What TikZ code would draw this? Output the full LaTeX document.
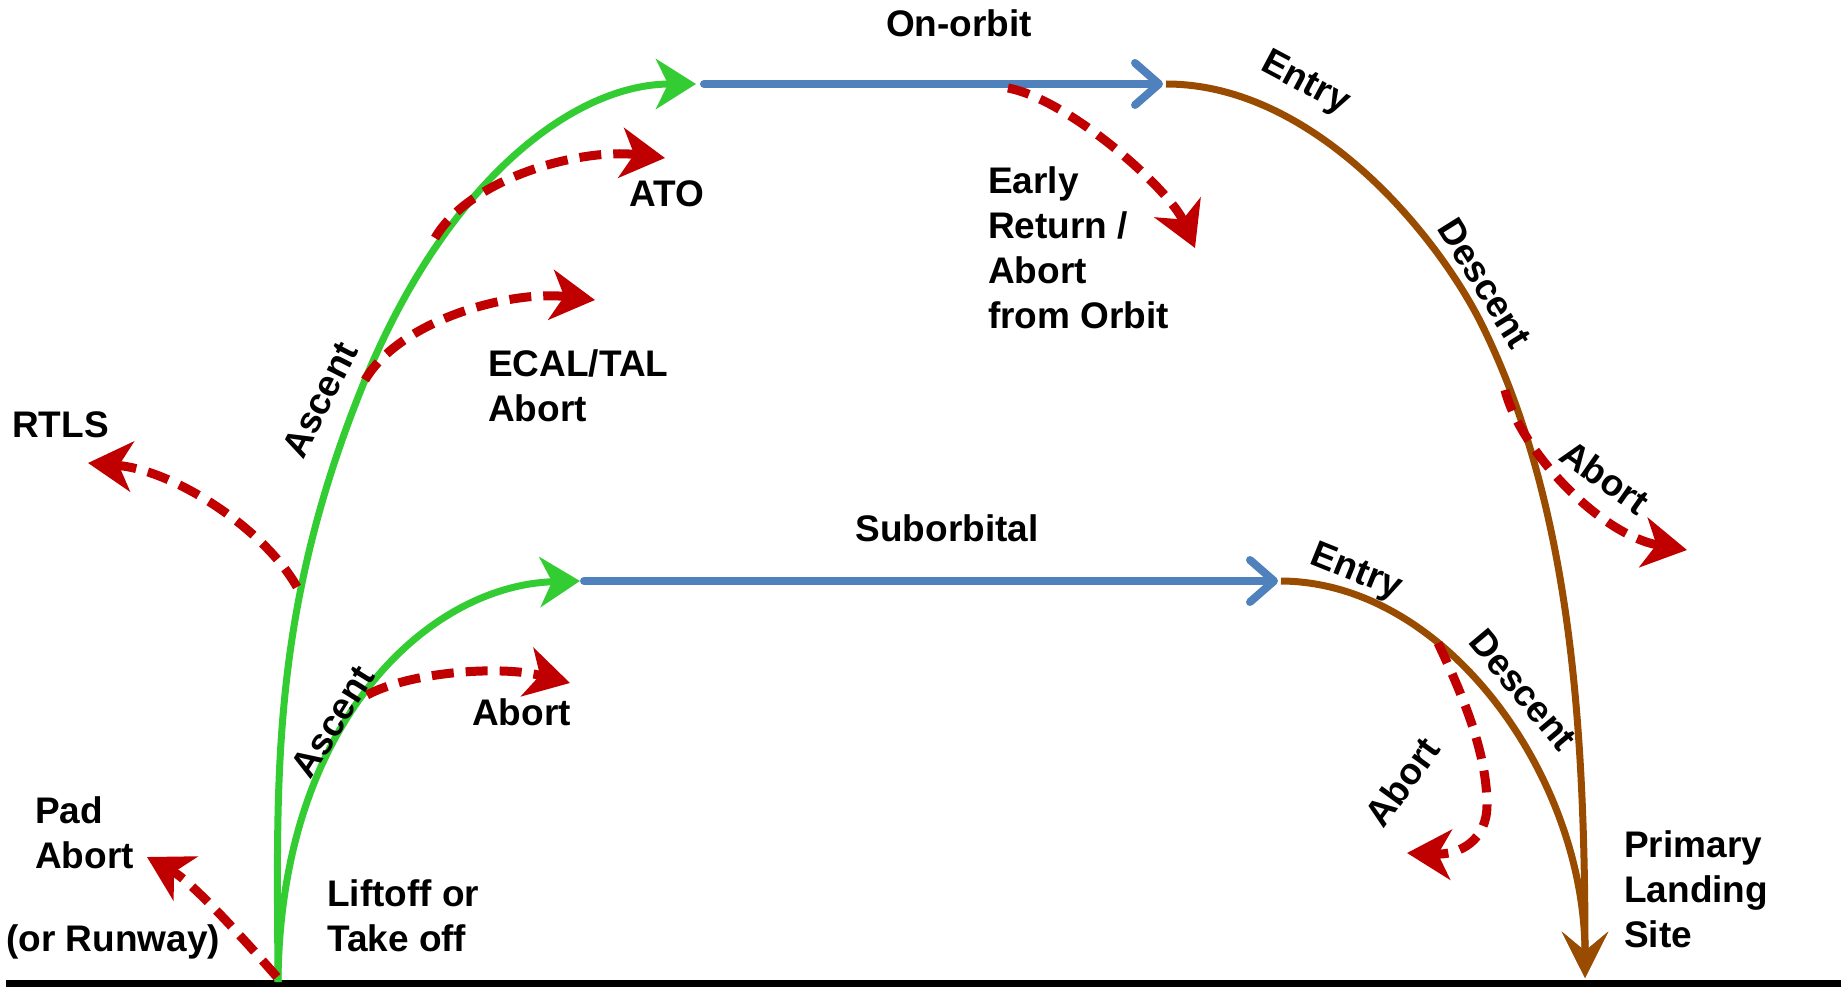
\documentclass[tikz,border=0pt]{standalone}
\usepackage{fontspec}
\setmainfont{Liberation Sans}
\usetikzlibrary{arrows.meta}
\definecolor{grn}{RGB}{51,204,51}
\definecolor{blu}{RGB}{79,129,189}
\definecolor{brn}{RGB}{153,76,0}
\definecolor{rd}{RGB}{192,0,0}
\begin{document}
\begin{tikzpicture}[x=1pt,y=-1pt,
  lbl/.style={font=\fontsize{37}{45}\selectfont\bfseries, inner sep=0pt, align=left, text=black},
  ascentline/.style={grn, line width=7pt, -{Stealth[length=40pt,width=50pt,inset=12pt]}},
  orbitline/.style={blu, line width=8pt, line cap=round, -{Straight Barb[length=24pt,width=42pt,round]}},
  descentline/.style={brn, line width=7pt, -{Stealth[length=46pt,width=46pt,inset=19pt]}},
  abortline/.style={rd, line width=9pt, dash pattern=on 22pt off 12pt, -{Stealth[length=44pt,width=50pt,inset=13pt]}},
  groundline/.style={black, line width=7pt}
]
\useasboundingbox (0,0) rectangle (1845,995);
% key points
\coordinate (gl) at (6,983);
\coordinate (gr) at (1841,983);
\coordinate (lift) at (278,982);
\coordinate (ascM) at (365,380);
\coordinate (orbA) at (696,84);
\coordinate (orbB) at (1163,84);
\coordinate (desM) at (1483,327);
\coordinate (land) at (1585,978);
\coordinate (subA) at (580,581);
\coordinate (subB) at (1278,581);
% abort points
\coordinate (padS) at (277,977);   \coordinate (padE) at (147,857);
\coordinate (rtlsS) at (297,587);  \coordinate (rtlsE) at (88,463);
\coordinate (ecalS) at (365,380);  \coordinate (ecalE) at (595,300);
\coordinate (atoS) at (435,238);   \coordinate (atoE) at (665,158);
\coordinate (sabS) at (367,695);   \coordinate (sabE) at (570,683);
\coordinate (erS) at (1008,88);    \coordinate (erE) at (1195,248);
\coordinate (dabS) at (1505,390);  \coordinate (dabE) at (1687,550);
\coordinate (sdS) at (1438,643);   \coordinate (sdM) at (1487,805); \coordinate (sdE) at (1407,853);

% ground
\draw[groundline] (gl) -- (gr);

% orbital trajectory
\draw[ascentline] (lift) .. controls (277,780) and (269,614) .. (ascM)
  .. controls (449,177) and (576,84) .. (orbA);
\draw[orbitline] ([xshift=8pt]orbA) -- (orbB);
\draw[descentline] ([xshift=3pt]orbB) .. controls (1315,84) and (1439,237) .. (desM)
  .. controls (1571,507) and (1585,728) .. (land);

% suborbital trajectory
\draw[ascentline] (lift) .. controls (280,720) and (430,585) .. (subA);
\draw[orbitline] ([xshift=4pt]subA) -- (subB);
\draw[descentline] ([xshift=3pt]subB) .. controls (1447,582) and (1585,778) .. (land);

% aborts
\draw[abortline] (padS) .. controls (242,937) and (192,882) .. (padE);
\draw[abortline] (rtlsS) .. controls (265,530) and (175,470) .. (rtlsE);
\draw[abortline] (ecalS) .. controls (400,320) and (510,290) .. (ecalE);
\draw[abortline] (atoS) .. controls (470,178) and (580,148) .. (atoE);
\draw[abortline] (sabS) .. controls (410,672) and (500,665) .. (sabE);
\draw[abortline] (erS) .. controls (1070,100) and (1170,190) .. (erE);
\draw[abortline] (dabS) .. controls (1520,450) and (1600,535) .. (dabE);
\draw[abortline] (sdS) .. controls (1460,690) and (1487,750) .. (sdM)
  .. controls (1487,840) and (1460,855) .. (sdE);

% labels (base anchor of a multi-line node = baseline of its last line)
\node[lbl, anchor=base] (lonorbit) at (959,37) {On-orbit};
\node[lbl, anchor=base] (lsub) at (947,541) {Suborbital};
\node[lbl, anchor=base] (lato) at (667,207) {ATO};
\node[lbl, anchor=base west] (lrtls) at (12,437) {RTLS};
\node[lbl, anchor=base west] (lecal) at (488,421) {ECAL/TAL\\Abort};
\node[lbl, anchor=base west] (learly) at (988,328) {Early\\Return /\\Abort\\from Orbit};
\node[lbl, anchor=base west] (lsubab) at (472,725) {Abort};
\node[lbl, anchor=base west] (lpad) at (35,868) {Pad\\Abort};
\node[lbl, anchor=base west] (lrunway) at (6,951) {(or Runway)};
\node[lbl, anchor=base west] (llift) at (327,951) {Liftoff or\\Take off};
\node[lbl, anchor=base west] (lland) at (1624,947) {Primary\\Landing\\Site};
\node[lbl, rotate=63] (lasc1) at (320,400) {Ascent};
\node[lbl, rotate=58] (lasc2) at (333,722) {Ascent};
\node[lbl, rotate=-28] (lentry1) at (1305,84) {Entry};
\node[lbl, rotate=-58] (ldesc1) at (1485,283) {Descent};
\node[lbl, rotate=-35] (labort1) at (1605,477) {Abort};
\node[lbl, rotate=-22] (lentry2) at (1356,573) {Entry};
\node[lbl, rotate=-50] (ldesc2) at (1523,690) {Descent};
\node[lbl, rotate=54] (labort2) at (1402,782) {Abort};
\end{tikzpicture}
\end{document}
